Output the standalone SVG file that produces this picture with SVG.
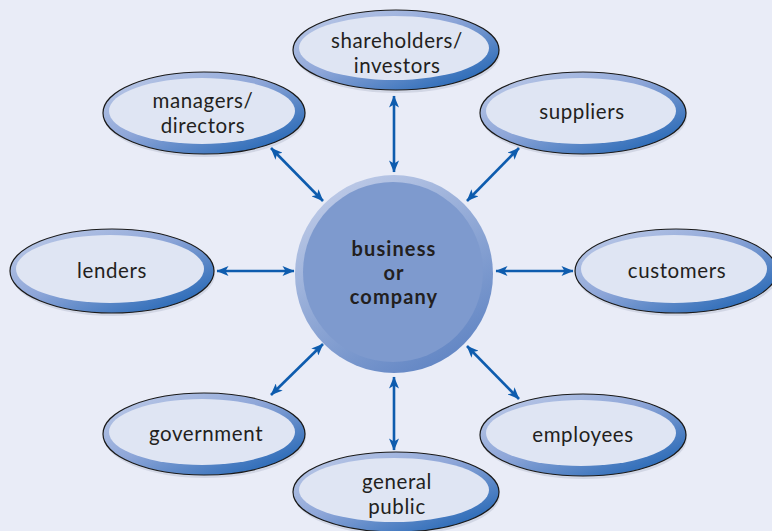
<svg xmlns="http://www.w3.org/2000/svg" width="772" height="531" viewBox="0 0 772 531">
<defs>
<linearGradient id="ring" x1="0" y1="0" x2="1" y2="1">
<stop offset="0" stop-color="#c3cfea"/>
<stop offset="0.45" stop-color="#8ea6d8"/>
<stop offset="1" stop-color="#0f5aae"/>
</linearGradient>
<linearGradient id="cring" x1="0.2" y1="0" x2="0.8" y2="1">
<stop offset="0" stop-color="#c0cce8"/>
<stop offset="1" stop-color="#5d82c2"/>
</linearGradient>
<marker id="ah" viewBox="0 0 12 10" refX="11.5" refY="5" markerWidth="13" markerHeight="10" orient="auto-start-reverse" markerUnits="userSpaceOnUse">
<path d="M0,0 L12,5 L0,10 L3,5 z" fill="#0e5cae"/>
</marker>
<style>
.out{fill:url(#ring);stroke:#1a1a1a;stroke-width:1.2}
.in{fill:#dfe5f3}
.sh{fill:#9aa3b8;opacity:0.3}
.t{font-family:Lato,"Open Sans",sans-serif;font-size:20.5px;letter-spacing:0.6px;fill:#231f20;text-anchor:middle}
.b{font-family:Lato,"Open Sans",sans-serif;font-size:20px;letter-spacing:1.1px;font-weight:bold;fill:#231f20;text-anchor:middle}
.c{stroke:#0e5cae;stroke-width:2.6;fill:none;marker-start:url(#ah);marker-end:url(#ah)}
</style>
</defs>
<rect width="772" height="531" fill="#e9ecf7"/>
<g id="connectors">
<line class="c" x1="394" y1="96" x2="394" y2="172"/>
<line class="c" x1="394" y1="377" x2="394" y2="450"/>
<line class="c" x1="217" y1="271" x2="294" y2="271"/>
<line class="c" x1="496" y1="271" x2="573" y2="271"/>
<line class="c" x1="271" y1="148" x2="323" y2="201"/>
<line class="c" x1="519" y1="148" x2="467" y2="201"/>
<line class="c" x1="271" y1="395" x2="323" y2="344"/>
<line class="c" x1="467" y1="346" x2="519" y2="399"/>
</g>
<g id="center">
<circle cx="394" cy="274" r="99" fill="url(#cring)"/>
<circle cx="393" cy="272" r="90" fill="#7e9ace"/>
<text class="b"><tspan x="394" y="256">business</tspan><tspan x="394" y="280">or</tspan><tspan x="394" y="304">company</tspan></text>
</g>
<g id="shareholders">
<ellipse class="sh" cx="397" cy="53" rx="103" ry="40"/>
<ellipse class="out" cx="396" cy="50" rx="103" ry="40"/>
<ellipse class="in" cx="394" cy="48" rx="95" ry="32"/>
<text class="t"><tspan x="397" y="48">shareholders/</tspan><tspan x="397" y="72.5">investors</tspan></text>
</g>
<g id="managers">
<ellipse class="sh" cx="205" cy="116" rx="101" ry="41"/>
<ellipse class="out" cx="204" cy="113" rx="101" ry="41"/>
<ellipse class="in" cx="202" cy="111" rx="93" ry="33"/>
<text class="t"><tspan x="203" y="108">managers/</tspan><tspan x="203" y="132.5">directors</tspan></text>
</g>
<g id="suppliers">
<ellipse class="sh" cx="584" cy="116" rx="103" ry="41"/>
<ellipse class="out" cx="583" cy="113" rx="103" ry="41"/>
<ellipse class="in" cx="581" cy="111" rx="95" ry="33"/>
<text class="t" x="582" y="119">suppliers</text>
</g>
<g id="lenders">
<ellipse class="sh" cx="113" cy="274" rx="102" ry="42"/>
<ellipse class="out" cx="112" cy="271" rx="102" ry="42"/>
<ellipse class="in" cx="110" cy="269" rx="94" ry="34"/>
<text class="t" x="112" y="278">lenders</text>
</g>
<g id="customers">
<ellipse class="sh" cx="677" cy="274" rx="101" ry="42"/>
<ellipse class="out" cx="676" cy="271" rx="101" ry="42"/>
<ellipse class="in" cx="674" cy="269" rx="93" ry="34"/>
<text class="t" x="677" y="278">customers</text>
</g>
<g id="government">
<ellipse class="sh" cx="205" cy="437" rx="101" ry="41"/>
<ellipse class="out" cx="204" cy="434" rx="101" ry="41"/>
<ellipse class="in" cx="202" cy="432" rx="93" ry="33"/>
<text class="t" x="206" y="441">government</text>
</g>
<g id="employees">
<ellipse class="sh" cx="584" cy="438" rx="103" ry="41"/>
<ellipse class="out" cx="583" cy="435" rx="103" ry="41"/>
<ellipse class="in" cx="581" cy="433" rx="95" ry="33"/>
<text class="t" x="583" y="442">employees</text>
</g>
<g id="public">
<ellipse class="sh" cx="397" cy="495" rx="103" ry="40"/>
<ellipse class="out" cx="396" cy="492" rx="103" ry="40"/>
<ellipse class="in" cx="394" cy="490" rx="95" ry="32"/>
<text class="t"><tspan x="397" y="489">general</tspan><tspan x="397" y="513.5">public</tspan></text>
</g>
</svg>
